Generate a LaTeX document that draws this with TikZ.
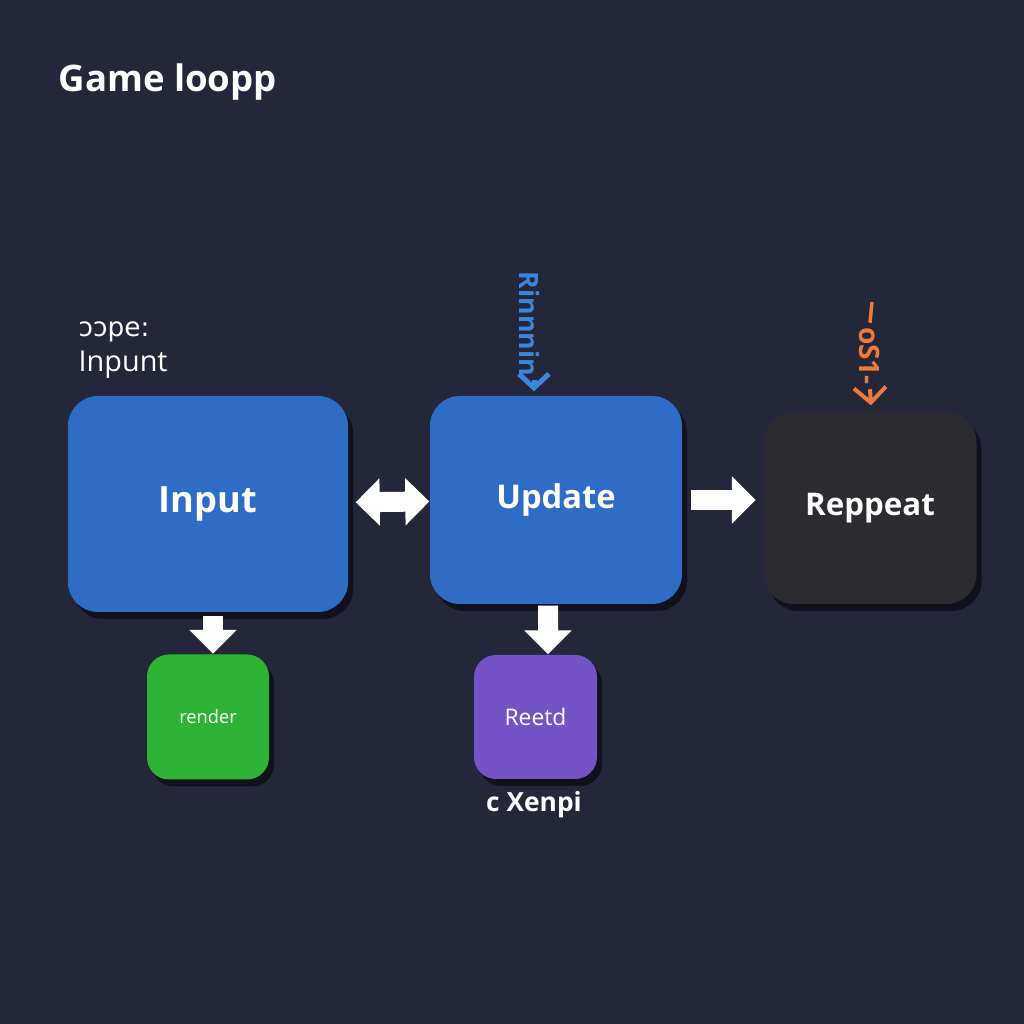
\documentclass[tikz,border=0pt]{standalone}
\usepackage{fontspec}
\setmainfont{Open Sans}
\newfontfamily\symfont{DejaVu Sans}
\usetikzlibrary{positioning,arrows.meta,shadows,calc}
\definecolor{bgNavy}{HTML}{24263A}
\definecolor{stageBlue}{HTML}{2F6CC6}
\definecolor{repeatGray}{HTML}{2C2C30}
\definecolor{renderGreen}{HTML}{2DB435}
\definecolor{readPurple}{HTML}{7353C6}
\definecolor{accentOrange}{HTML}{EC7A3A}
\definecolor{accentBlue}{HTML}{3A86DE}

\begin{document}
\begin{tikzpicture}[
      stage/.style={rounded corners=0.3cm,text=white,font=\bfseries,
        drop shadow={shadow xshift=0.05cm,shadow yshift=-0.07cm,opacity=0.55,fill=black}},
      small/.style={stage,rounded corners=0.22cm,font=\fontsize{5.5}{6}\selectfont},
      fat/.style={white,line width=0.2cm,-{Triangle[width=0.46cm,length=0.24cm]}},
      fatboth/.style={fat,{Triangle[width=0.46cm,length=0.24cm]}-{Triangle[width=0.46cm,length=0.24cm]}}]
    \fill[bgNavy] (0,0) rectangle (10.24,10.24);
    \useasboundingbox (0,0) rectangle (10.24,10.24);

    \node[anchor=west,inner sep=0pt,text=white,font=\fontsize{10.4}{12}\selectfont\bfseries] (title) at (0.58,9.42) {Game loopp};

    % main loop
    \node[stage,fill=stageBlue,minimum width=2.8cm,minimum height=2.16cm,font=\fontsize{10.3}{12}\selectfont\bfseries] (input) at (2.08,5.20) {Input};
    \node[stage,fill=stageBlue,minimum width=2.52cm,minimum height=2.08cm,font=\fontsize{9.3}{11}\selectfont\bfseries] (update) at (5.56,5.24) {Update};
    \node[stage,fill=repeatGray,minimum width=2.13cm,minimum height=1.92cm,font=\fontsize{8.9}{10}\selectfont\bfseries] (repeat) at (8.70,5.16) {Reppeat};

    \node[small,fill=renderGreen,minimum width=1.22cm,minimum height=1.25cm,font=\fontsize{5.2}{6}\selectfont] (render) at (2.08,3.07) {render};
    \node[small,fill=readPurple,minimum width=1.23cm,minimum height=1.24cm,font=\fontsize{6.5}{7}\selectfont] (reetd) at (5.355,3.07) {Reetd};

    \draw[fatboth,shorten <=0.07cm] (input) -- (update);
    \draw[fat,shorten <=0.08cm,shorten >=0.07cm] (update.east) -- (update.east -| repeat.west);
    \draw[fat,shorten <=0.03cm] ([xshift=0.05cm]input.south) -- ([xshift=0.05cm]render.north);
    \draw[fat,shorten <=0.01cm] ([xshift=-0.08cm]update.south) -- ([xshift=0.125cm]reetd.north);

    % side labels
    \node[anchor=north west,text=white,align=left,font=\fontsize{8.2}{10}\selectfont,inner sep=0pt] (inlabel) at (0.78,7.03) {{\symfont\fontsize{7.5}{9}\selectfont ↄↄpe:}\\Inpunt};
    \node[text=white,font=\fontsize{7.5}{9}\selectfont\bfseries] (readlabel) at (5.34,2.19) {c Xenpi};

    \node[rotate=-90,text=accentBlue,font=\fontsize{7.6}{9}\selectfont\bfseries,inner sep=1pt] (bluetag) at (5.30,7.00) {Rinnnin};
    \draw[accentBlue,line width=0.05cm,-{Straight Barb[width=0.3cm,length=0.14cm]}] ([xshift=0.04cm]bluetag.east) -- ([xshift=0.04cm,yshift=0.04cm]bluetag.east |- update.north);

    \coordinate (orangetop) at (8.72,7.22);
    \node[rotate=-90,text=accentOrange,font=\fontsize{8}{9}\selectfont\bfseries,inner sep=1pt] (orangetag) at (8.70,6.68) {oS1-};
    \draw[accentOrange,line width=0.035cm] (orangetop) -- (orangetag.west);
    \draw[accentOrange,line width=0.04cm,-{Straight Barb[width=0.32cm,length=0.15cm]}] (orangetag.east) -- ([xshift=0.01cm,yshift=0.06cm]repeat.north);
  \end{tikzpicture}
\end{document}
